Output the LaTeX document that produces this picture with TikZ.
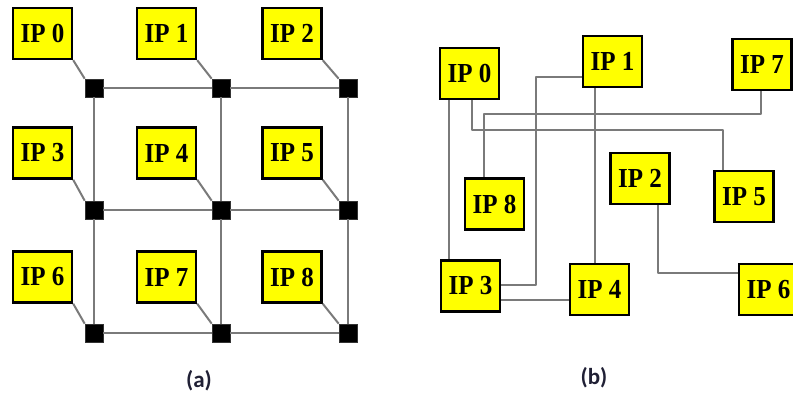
\documentclass[tikz,border=0pt]{standalone}
\usepackage{fontspec}
\setmainfont{Liberation Serif}
\newfontfamily\capfont{Carlito}
\definecolor{ipyellow}{HTML}{FFFF00}
\definecolor{wire}{HTML}{7A7A7A}
\definecolor{capcol}{HTML}{202035}
\newcommand{\iplab}[1]{\scalebox{1}[1.1]{#1}}
\begin{document}
\begin{tikzpicture}[x=1pt,y=-1pt,
  ipbox/.style={draw=black,fill=ipyellow,line width=2.4pt,minimum width=59pt,minimum height=51pt,inner sep=0pt,
    font=\fontsize{25}{25}\selectfont\bfseries},
  router/.style={fill=black,draw=black!80,line width=0.6pt,minimum size=18pt,inner sep=0pt},
  wireline/.style={draw=wire,line width=2pt},
  caption/.style={font=\capfont\fontsize{23}{23}\selectfont\bfseries,text=capcol}]
\useasboundingbox (0,0) rectangle (793,396);
% ---------- (a) mesh ----------
\foreach \c/\x in {0/94,1/221,2/348}{
  \foreach \r/\y in {0/88,1/210,2/333}{
    \node[router] (r\r\c) at (\x,\y) {};
  }
}
\foreach \r in {0,1,2}{
  \draw[wireline] (r\r0) -- (r\r1);
  \draw[wireline] (r\r1) -- (r\r2);
  \draw[wireline] (r0\r) -- (r1\r);
  \draw[wireline] (r1\r) -- (r2\r);
}
\node[ipbox] (a0) at (42.5,33.5) {\iplab{IP 0}};
\node[ipbox] (a1) at (166.5,33.5) {\iplab{IP 1}};
\node[ipbox] (a2) at (292,33.5) {\iplab{IP 2}};
\node[ipbox] (a3) at (42.5,153) {\iplab{IP 3}};
\node[ipbox] (a4) at (166.5,153) {\iplab{IP 4}};
\node[ipbox] (a5) at (292,153) {\iplab{IP 5}};
\node[ipbox] (a6) at (42.5,277) {\iplab{IP 6}};
\node[ipbox] (a7) at (166.5,277) {\iplab{IP 7}};
\node[ipbox] (a8) at (292,277) {\iplab{IP 8}};
\draw[wireline] (a0.south east) -- (r00.north west);
\draw[wireline] (a1.south east) -- (r01.north west);
\draw[wireline] (a2.south east) -- (r02.north west);
\draw[wireline] (a3.south east) -- (r10.north west);
\draw[wireline] (a4.south east) -- (r11.north west);
\draw[wireline] (a5.south east) -- (r12.north west);
\draw[wireline] (a6.south east) -- (r20.north west);
\draw[wireline] (a7.south east) -- (r21.north west);
\draw[wireline] (a8.south east) -- (r22.north west);
\node[caption] (capa) at (199,381) {(a)};
% ---------- (b) custom ----------
\node[ipbox] (b0) at (469.5,73.5) {\iplab{IP 0}};
\node[ipbox] (b1) at (612.5,61.5) {\iplab{IP 1}};
\node[ipbox] (b7) at (762,64.5) {\iplab{IP 7}};
\node[ipbox] (b2) at (640,178.5) {\iplab{IP 2}};
\node[ipbox] (b5) at (744,196.5) {\iplab{IP 5}};
\node[ipbox] (b8) at (494.5,204) {\iplab{IP 8}};
\node[ipbox] (b3) at (470.5,286) {\iplab{IP 3}};
\node[ipbox] (b4) at (599.5,289.5) {\iplab{IP 4}};
\node[ipbox] (b6) at (768.5,289.5) {\iplab{IP 6}};
\coordinate (t2) at (0,130);
\coordinate (t3) at (0,114);
\coordinate (t4) at (536,0);
\coordinate (p4) at ([yshift=1pt]b3.east);
\begin{scope}[line join=round]
\draw[wireline] ([xshift=-20.5pt]b0.south) -- ([xshift=-20.5pt]b0.south |- b3.north);
\draw[wireline] ([xshift=2.5pt]b0.south) -- ([xshift=2.5pt]b0.south |- t2) -| ([xshift=-21pt]b5.north);
\draw[wireline] ([xshift=-1pt]b7.south) -- ([xshift=-1pt]b7.south |- t3) -| ([xshift=-10.5pt]b8.north);
\draw[wireline] ([yshift=-15.5pt]b1.west) -| (t4 |- p4) -- (p4);
\draw[wireline] ([xshift=-17.5pt]b1.south) -- ([xshift=-17.5pt]b1.south |- b4.north);
\draw[wireline] ([yshift=-14pt]b3.east) -- ([yshift=-14pt]b3.east -| b4.west);
\draw[wireline] ([xshift=18pt]b2.south) |- ([yshift=16.5pt]b6.west);
\end{scope}
\node[caption] (capb) at (594,378) {(b)};
\end{tikzpicture}
\end{document}
